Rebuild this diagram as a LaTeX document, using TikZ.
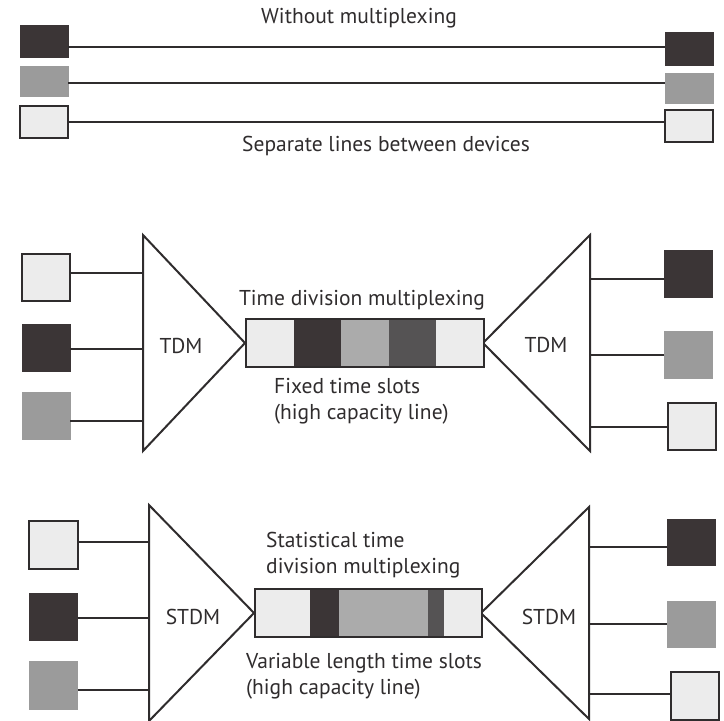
\documentclass[tikz,border=0pt]{standalone}
\usepackage{fontspec}
\setmainfont{PT Sans}
\usetikzlibrary{positioning}

\definecolor{ink}{HTML}{2F2C2D}
\definecolor{devdark}{HTML}{3B3536}
\definecolor{devgray}{HTML}{9B9B9B}
\definecolor{devlight}{HTML}{ECECEC}
\definecolor{slotmid}{HTML}{ABABAB}
\definecolor{slotdeep}{HTML}{555354}

\begin{document}
\begin{tikzpicture}[
x=1pt,
y=-1pt,
darkbox/.style={
  draw=devdark,
  fill=devdark,
  line width=0.8pt,
  inner sep=0pt,
  minimum width=48pt,
  minimum height=47pt
  },
graybox/.style={
  darkbox,
  draw=devgray,
  fill=devgray
  },
lightbox/.style={
  darkbox,
  draw=ink,
  fill=devlight,
  line width=2pt
  },
wire/.style={
  draw=ink,
  line width=2pt
  },
mux/.style={
  draw=ink,
  line width=2pt,
  line join=miter
  },
slot/.style={
  fill=#1,
  anchor=west,
  inner sep=0pt,
  outer sep=0pt,
  minimum height=48pt
  },
lbl/.style={
  font=\fontsize{21.5}{26}\selectfont,
  text=ink,
  inner sep=0pt
  }
]

\useasboundingbox (0,0) rectangle (724,721);

% without multiplexing
\node[lbl] (plain-title) at (359,18) {Without multiplexing};
\node[darkbox, minimum height=32pt] (wL1) at (44,41) {};
\node[graybox, minimum height=30pt] (wL2) at (44,81) {};
\node[lightbox, minimum height=32pt] (wL3) at (44,122) {};
\node[darkbox, minimum height=33pt] (wR1) at (689,48.5) {};
\node[graybox, minimum height=30pt] (wR2) at (689,88) {};
\node[lightbox, minimum height=32pt] (wR3) at (689,125.5) {};
\foreach \i/\dy in {1/-6,2/-2,3/0}
  \draw[wire] ([yshift=\dy pt]wL\i.east) -- ([yshift=\dy pt]wL\i.east -| wR\i.west);
\node[lbl] (plain-note) at (386,146) {Separate lines between devices};

% time division multiplexing
\coordinate (tdmA-top) at (143,235);
\coordinate (tdmA-tip) at (245,343);
\coordinate (tdmA-bot) at (143,451);
\coordinate (tdmB-top) at (590,235);
\coordinate (tdmB-tip) at (483,343);
\coordinate (tdmB-bot) at (590,451);
\draw[mux] (tdmA-top) -- (tdmA-tip) -- (tdmA-bot) -- cycle;
\draw[mux] (tdmB-top) -- (tdmB-tip) -- (tdmB-bot) -- cycle;

\node[slot=white, minimum height=0pt] (tdm-s0) at (tdmA-tip) {};
\foreach \c [count=\i] in {devlight,devdark,slotmid,slotdeep,devlight}
{\pgfmathtruncatemacro\j{\i-1}
  \node[slot=\c, minimum width=47.6pt] (tdm-s\i) at (tdm-s\j.east) {};
}
\draw[ink, line width=1.3pt] (tdm-s1.north west) rectangle (tdm-s5.south east);

\node[lightbox] (tdmL1) at (46,277) {};
\node[darkbox] (tdmL2) at (46,347.5) {};
\node[graybox] (tdmL3) at (46,416) {};
\node[darkbox] (tdmR1) at (688.5,273.5) {};
\node[graybox] (tdmR2) at (688.5,355) {};
\node[lightbox] (tdmR3) at (691.5,426.5) {};
\foreach \i/\dy in {1/4,2/-1.5,3/-5}
  \draw[wire] ([yshift=\dy pt]tdmL\i.east) -- ([yshift=\dy pt]tdmL\i.east -| tdmA-top);
\foreach \i/\dy in {1/-5.5,2/0,3/0}
  \draw[wire] ([yshift=\dy pt]tdmR\i.west) -- ([yshift=\dy pt]tdmR\i.west -| tdmB-top);

\node[lbl] (tdmA-name) at (181,346) {TDM};
\node[lbl] (tdmB-name) at (546,345) {TDM};
\node[lbl] (tdm-title) at (362,300) {Time division multiplexing};
\node[lbl, anchor=west, align=left] (tdm-note) at (274,401)
  {Fixed time slots\\(high capacity line)};

% statistical time division multiplexing
\coordinate (stdmA-top) at (149,505);
\coordinate (stdmA-tip) at (254,613);
\coordinate (stdmA-bot) at (149,721);
\coordinate (stdmB-top) at (589,507);
\coordinate (stdmB-tip) at (481,613);
\coordinate (stdmB-bot) at (589,719);
\draw[mux] (stdmA-top) -- (stdmA-tip) -- (stdmA-bot) -- cycle;
\draw[mux] (stdmB-top) -- (stdmB-tip) -- (stdmB-bot) -- cycle;

\node[slot=white, minimum height=0pt] (stdm-s0) at (stdmA-tip) {};
\foreach \c/\w [count=\i] in {devlight/55,devdark/29,slotmid/89,slotdeep/16,devlight/38}
{\pgfmathtruncatemacro\j{\i-1}
  \node[slot=\c, minimum width=\w pt] (stdm-s\i) at (stdm-s\j.east) {};
}
\draw[ink, line width=1.3pt] (stdm-s1.north west) rectangle (stdm-s5.south east);

\node[lightbox, minimum width=49pt, minimum height=48pt] (stdmL1) at (53.5,545) {};
\node[darkbox] (stdmL2) at (53.5,616.5) {};
\node[graybox, minimum height=48pt] (stdmL3) at (53.5,685) {};
\node[darkbox, minimum height=46pt] (stdmR1) at (691.5,542) {};
\node[graybox, minimum height=46pt] (stdmR2) at (691.5,624) {};
\node[lightbox, minimum height=48pt] (stdmR3) at (694.5,696) {};
\foreach \i/\dy in {1/3,2/-1.5,3/-5}
  \draw[wire] ([yshift=\dy pt]stdmL\i.east) -- ([yshift=\dy pt]stdmL\i.east -| stdmA-top);
\foreach \i/\dy in {1/-5,2/0,3/2}
  \draw[wire] ([yshift=\dy pt]stdmR\i.west) -- ([yshift=\dy pt]stdmR\i.west -| stdmB-top);

\node[lbl] (stdmA-name) at (193,617) {STDM};
\node[lbl] (stdmB-name) at (549,617) {STDM};
\node[lbl, anchor=west, align=left] (stdm-title) at (266,555)
  {Statistical time\\division multiplexing};
\node[lbl, anchor=west, align=left] (stdm-note) at (246,676)
  {Variable length time slots\\(high capacity line)};
\end{tikzpicture}
\end{document}
